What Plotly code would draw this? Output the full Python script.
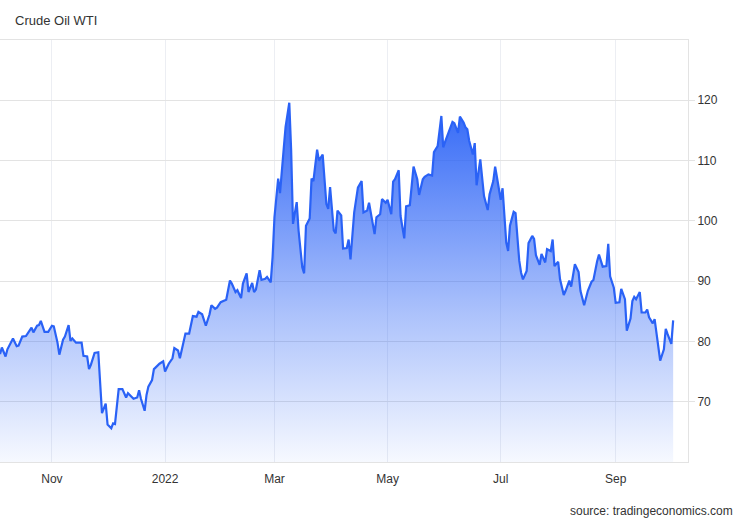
import plotly.graph_objects as go

title_text = "Crude Oil WTI"
source_text = "source: tradingeconomics.com"

dates = [
    "2021-10-04", "2021-10-05", "2021-10-07", "2021-10-08", "2021-10-11", "2021-10-13", "2021-10-14",
    "2021-10-16", "2021-10-18", "2021-10-21", "2021-10-22", "2021-10-24", "2021-10-25", "2021-10-26",
    "2021-10-28", "2021-10-30",
    "2021-11-01", "2021-11-02", "2021-11-04", "2021-11-05", "2021-11-07", "2021-11-08", "2021-11-10",
    "2021-11-11", "2021-11-12", "2021-11-14", "2021-11-17", "2021-11-18", "2021-11-20", "2021-11-21",
    "2021-11-22", "2021-11-24", "2021-11-26", "2021-11-28", "2021-11-30",
    "2021-12-01", "2021-12-03", "2021-12-04", "2021-12-05", "2021-12-07", "2021-12-09", "2021-12-11",
    "2021-12-12", "2021-12-15", "2021-12-17", "2021-12-18", "2021-12-19", "2021-12-21", "2021-12-22",
    "2021-12-23", "2021-12-25", "2021-12-26", "2021-12-27", "2021-12-29", "2021-12-31",
    "2022-01-01", "2022-01-03", "2022-01-05", "2022-01-06", "2022-01-08", "2022-01-09", "2022-01-11",
    "2022-01-12", "2022-01-14", "2022-01-15", "2022-01-16", "2022-01-18", "2022-01-19", "2022-01-21",
    "2022-01-23", "2022-01-25", "2022-01-26", "2022-01-28", "2022-01-29", "2022-01-31",
    "2022-02-02", "2022-02-03", "2022-02-05", "2022-02-06", "2022-02-08", "2022-02-09", "2022-02-11",
    "2022-02-12", "2022-02-14", "2022-02-15", "2022-02-17", "2022-02-18", "2022-02-19", "2022-02-21",
    "2022-02-22", "2022-02-24", "2022-02-25", "2022-02-27", "2022-02-28",
    "2022-03-01", "2022-03-03", "2022-03-04", "2022-03-06", "2022-03-07", "2022-03-09", "2022-03-10",
    "2022-03-11", "2022-03-13", "2022-03-14", "2022-03-16", "2022-03-17", "2022-03-18", "2022-03-20",
    "2022-03-21", "2022-03-22", "2022-03-24", "2022-03-25", "2022-03-27", "2022-03-29", "2022-03-30",
    "2022-03-31",
    "2022-04-02", "2022-04-03", "2022-04-04", "2022-04-06", "2022-04-07", "2022-04-09", "2022-04-10",
    "2022-04-11", "2022-04-13", "2022-04-15", "2022-04-17", "2022-04-18", "2022-04-20", "2022-04-21",
    "2022-04-22", "2022-04-24", "2022-04-25", "2022-04-27", "2022-04-28", "2022-04-30",
    "2022-05-01", "2022-05-03", "2022-05-04", "2022-05-05", "2022-05-07", "2022-05-08", "2022-05-10",
    "2022-05-11", "2022-05-13", "2022-05-14", "2022-05-15", "2022-05-17", "2022-05-18", "2022-05-20",
    "2022-05-21", "2022-05-23", "2022-05-25", "2022-05-26", "2022-05-28", "2022-05-30", "2022-05-31",
    "2022-06-01", "2022-06-03", "2022-06-05", "2022-06-06", "2022-06-08", "2022-06-09", "2022-06-11",
    "2022-06-12", "2022-06-13", "2022-06-14", "2022-06-16", "2022-06-17", "2022-06-18", "2022-06-20",
    "2022-06-21", "2022-06-22", "2022-06-24", "2022-06-25", "2022-06-27", "2022-06-28", "2022-06-29",
    "2022-07-01", "2022-07-02", "2022-07-04", "2022-07-05", "2022-07-06", "2022-07-08", "2022-07-09",
    "2022-07-11", "2022-07-12", "2022-07-13", "2022-07-15", "2022-07-16", "2022-07-18", "2022-07-19",
    "2022-07-20", "2022-07-22", "2022-07-23", "2022-07-25", "2022-07-26", "2022-07-28", "2022-07-29",
    "2022-07-30",
    "2022-08-01", "2022-08-02", "2022-08-04", "2022-08-05", "2022-08-07", "2022-08-08", "2022-08-09",
    "2022-08-10", "2022-08-12", "2022-08-13", "2022-08-15", "2022-08-17", "2022-08-19", "2022-08-20",
    "2022-08-22", "2022-08-23", "2022-08-25", "2022-08-27", "2022-08-28", "2022-08-29", "2022-08-31",
    "2022-09-01", "2022-09-03", "2022-09-04", "2022-09-06", "2022-09-07", "2022-09-09", "2022-09-10",
    "2022-09-11", "2022-09-12", "2022-09-14", "2022-09-15", "2022-09-17", "2022-09-18", "2022-09-19",
    "2022-09-21", "2022-09-22", "2022-09-24", "2022-09-25", "2022-09-27", "2022-09-28", "2022-09-29",
    "2022-10-01", "2022-10-02",
]

prices = [
    77.9, 79.0, 77.5, 78.7, 80.5, 79.2, 79.3,
    80.8, 80.9, 82.3, 81.5, 82.6, 82.7, 83.4,
    81.6, 81.6,
    82.6, 82.5, 79.8, 77.8, 80.3, 80.8, 82.7,
    80.1, 80.5, 79.8, 79.8, 77.6, 77.5, 75.4,
    76.1, 78.1, 78.2, 68.1, 69.7,
    66.2, 65.6, 66.4, 66.3, 72.1, 72.1, 70.7,
    71.4, 70.5, 70.7, 71.9, 70.5, 68.5, 71.1,
    72.5, 73.6, 75.4, 75.7, 76.3, 76.7,
    75.0, 76.3, 77.2, 78.9, 78.5, 77.2, 80.3,
    81.3, 81.3, 82.7, 84.2, 84.1, 84.9, 84.5,
    82.6, 84.5, 86.0, 85.4, 85.6, 86.5,
    86.7, 86.9, 90.1, 89.6, 88.2, 88.5, 87.2,
    89.6, 91.3, 88.2, 89.7, 88.2, 88.6, 91.8,
    90.2, 90.4, 90.7, 89.8, 94.0,
    100.6, 107.0, 104.6, 112.0, 115.6, 119.6, 111.7,
    99.5, 103.1, 98.4, 92.3, 91.3, 99.2, 100.4,
    107.0, 106.6, 111.8, 110.0, 111.0, 102.8, 102.0,
    105.6,
    98.4, 97.9, 101.7, 100.9, 95.4, 95.5, 96.9,
    93.6, 101.4, 105.5, 106.6, 101.4, 101.7, 103.0,
    101.4, 97.8, 100.6, 101.1, 103.6, 103.0,
    103.5, 101.1, 106.5, 106.9, 108.4, 100.8, 97.1,
    102.4, 102.6, 106.1, 109.0, 106.9, 104.3, 106.9,
    107.3, 107.7, 107.5, 111.4, 112.4, 117.4, 112.2,
    113.1, 114.9, 116.4, 116.2, 114.6, 117.3, 116.3,
    115.5, 115.2, 113.3, 111.0, 112.9, 105.9, 110.2,
    106.9, 104.1, 101.8, 104.4, 106.6, 109.0, 107.2,
    103.5, 105.4, 96.4, 95.0, 99.2, 101.5, 101.3,
    93.4, 91.4, 90.3, 91.7, 96.3, 97.5, 97.0,
    94.3, 92.7, 94.5, 93.1, 95.3, 95.0, 96.9,
    92.5,
    93.2, 90.3, 87.7, 88.4, 90.1, 89.1, 90.9,
    92.8, 91.5, 88.4, 86.0, 88.4, 89.9, 90.2,
    93.3, 94.4, 92.4, 92.5, 96.2, 90.8, 88.9,
    86.4, 86.5, 88.7, 87.0, 81.8, 83.8, 86.7,
    87.4, 87.0, 88.2, 84.8, 84.8, 85.3, 84.0,
    83.0, 83.7, 79.6, 76.8, 78.7, 82.1, 81.2,
    79.6, 83.5,
]

x_tick_dates = ["2021-11-01", "2022-01-01", "2022-03-01", "2022-05-01", "2022-07-01", "2022-09-01"]
x_tick_labels = ["Nov", "2022", "Mar", "May", "Jul", "Sep"]
y_ticks = [70, 80, 90, 100, 110, 120]

line_color = "#2a62f6"

fig = go.Figure()
fig.add_trace(go.Scatter(
    x=dates,
    y=prices,
    mode="lines",
    line=dict(color=line_color, width=2.2),
    fill="tozeroy",
    fillgradient=dict(
        type="vertical",
        start=60,
        stop=120,
        colorscale=[
            [0.0, "rgba(42,98,246,0.04)"],
            [0.4, "rgba(42,98,246,0.38)"],
            [1.0, "rgba(42,98,246,0.97)"],
        ],
    ),
    hoverinfo="x+y",
    showlegend=False,
))

fig.update_layout(
    width=750,
    height=520,
    margin=dict(l=0, r=62, t=40, b=58),
    paper_bgcolor="white",
    plot_bgcolor="white",
    font=dict(family="Liberation Sans, Arial, sans-serif", size=12, color="#333333"),
    title=dict(
        text=title_text,
        x=15 / 750,
        xanchor="left",
        xref="container",
        y=1 - 20 / 520,
        yanchor="middle",
        yref="container",
        font=dict(size=13, color="#333333"),
    ),
    xaxis=dict(
        type="date",
        range=["2021-10-04", "2022-10-10"],
        tickvals=x_tick_dates,
        ticktext=x_tick_labels,
        showgrid=True,
        gridcolor="#eceef3",
        gridwidth=1,
        showline=True,
        mirror=True,
        linecolor="#e3e3e3",
        linewidth=1,
        ticks="outside",
        ticklen=6,
        tickcolor="rgba(0,0,0,0)",
        tickfont=dict(size=12, color="#333333"),
        zeroline=False,
    ),
    yaxis=dict(
        side="right",
        range=[60, 130],
        tickvals=y_ticks,
        showgrid=True,
        gridcolor="#e3e3e3",
        gridwidth=1,
        showline=True,
        linecolor="#e3e3e3",
        linewidth=1,
        ticks="outside",
        ticklen=6,
        tickcolor="#e3e3e3",
        tickfont=dict(size=12, color="#333333"),
        zeroline=False,
    ),
    annotations=[
        dict(
            text=source_text,
            xref="paper",
            yref="paper",
            x=735 / 688,
            y=(462 - 511) / 422,
            xanchor="right",
            yanchor="middle",
            showarrow=False,
            font=dict(size=12, color="#333333"),
        )
    ],
)

fig.write_html(
    "out.html",
    config={"displayModeBar": False},
    post_script="document.body.style.margin='0';",
)
